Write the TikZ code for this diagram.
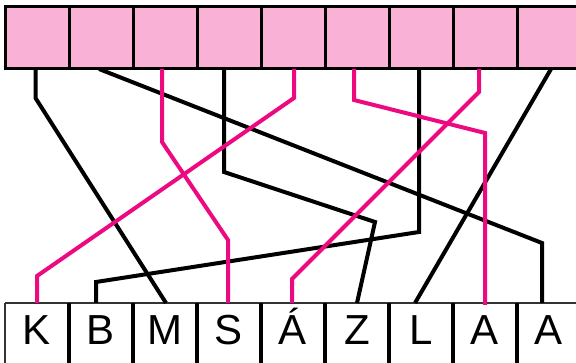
\documentclass[tikz,border=0pt]{standalone}
\usepackage{fontspec}
\setmainfont{Liberation Sans}
\definecolor{boxpink}{RGB}{249,178,214}
\definecolor{linepink}{RGB}{237,10,128}
\begin{document}
\begin{tikzpicture}[x=1pt,y=-1pt,
  topbox/.style={rectangle,draw=black,line width=3pt,fill=boxpink,minimum width=64pt,minimum height=62pt,inner sep=0pt,outer sep=0pt},
  letterbox/.style={rectangle,minimum width=64pt,minimum height=60pt,inner sep=0pt,outer sep=0pt,font=\fontsize{42}{42}\selectfont,text height=30pt,text depth=6pt},
  blk/.style={draw=black,line width=4pt},
  pnk/.style={draw=linepink,line width=4pt},
  divider/.style={draw=black,line width=3.5pt},
  edge/.style={draw=black!80,line width=1.5pt}]
\useasboundingbox (0,0) rectangle (576,363);
% top row
\foreach \i in {1,...,9}{
  \node[topbox] (t\i) at ({37+64*(\i-1)},38) {};
}
% bottom row
\node[letterbox] (b1) at (37,333) {K};
\node[letterbox] (b2) at (101,333) {B};
\node[letterbox] (b3) at (165,333) {M};
\node[letterbox] (b4) at (229,333) {S};
\node[letterbox] (b5) at (293,333) {Á};
\node[letterbox] (b6) at (357,333) {Z};
\node[letterbox] (b7) at (421,333) {L};
\node[letterbox] (b8) at (485,333) {A};
\node[letterbox] (b9) at (549,333) {A};
\draw[edge] (b1.north west) -- (b9.north east);
\draw[edge] (b1.north west) -- (b1.south west);
\foreach \i in {1,...,8}{
  \draw[divider] (b\i.north east) -- (b\i.south east);
}
% black connectors
\draw[blk] ([xshift=-1.5pt]t1.south) -- ++(0,29) -- ([xshift=1pt]b3.north);
\draw[blk] ([xshift=-2pt]t2.south) -- (542,243) -- ([xshift=-7pt]b9.north);
\draw[blk] ([xshift=-5pt]t4.south) -- ++(0,103) -- (375,222) -- (b6.north);
\draw[blk] ([xshift=-2pt]t7.south) -- ++(0,163) -- (96,282) -- ([xshift=-5pt]b2.north);
\draw[blk] ([xshift=2pt]t9.south) -- ([xshift=-6pt]b7.north);
% pink connectors
\draw[pnk] ([xshift=-3pt]t3.south) -- ++(0,73) -- (228,240) -- ([xshift=-1pt]b4.north);
\draw[pnk] ([xshift=1pt]t5.south) -- ++(0,29) -- (37,276) -- (b1.north);
\draw[pnk] ([xshift=-3pt]t6.south) -- ++(0,31) -- (485,133) -- ([yshift=-2pt]b8.north);
\draw[pnk] ([xshift=-6pt]t8.south) -- ++(0,23) -- (292,279) -- ([xshift=-1pt]b5.north);
\end{tikzpicture}
\end{document}
